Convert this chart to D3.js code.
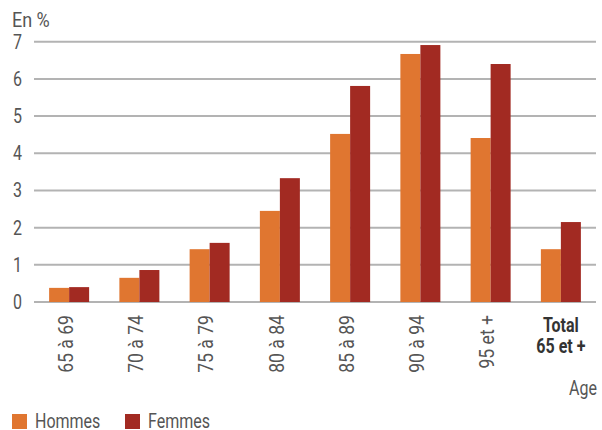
<!DOCTYPE html>
<html>
<head>
<meta charset="utf-8">
<script src="https://cdn.jsdelivr.net/npm/d3@7"></script>
<style>
  html, body { margin: 0; padding: 0; background: #fff; }
  svg { display: block; }
  text { font-family: "Roboto", "Liberation Sans", sans-serif; font-weight: 400; }
</style>
</head>
<body>
<svg id="chart" width="602" height="430"></svg>
<script>
// Age groups and rates (en %) by sex
const categories = ["65 à 69", "70 à 74", "75 à 79", "80 à 84", "85 à 89", "90 à 94", "95 et +", "Total\n65 et +"];
const hommes = [0.38, 0.65, 1.42, 2.45, 4.52, 6.67, 4.41, 1.42];
const femmes = [0.40, 0.86, 1.59, 3.33, 5.81, 6.91, 6.40, 2.15];
const seriesNames = ["Hommes", "Femmes"];
const yTicks = [0, 1, 2, 3, 4, 5, 6, 7];

const colors = { Hommes: "#E07630", Femmes: "#A22A22" };
const textColor = "#555555";
const narrow = 0.8;   // horizontal squeeze giving a condensed face
const fontSize = 20;

const svg = d3.select("#chart");

const plotLeft = 34, plotRight = 596, plotTop = 41.7, plotBottom = 302;
const groupWidth = 40;
const step = (plotRight - plotLeft) / categories.length;
const pad = 1 - groupWidth / step;

const x0 = d3.scaleBand().domain(categories).range([plotLeft, plotRight])
  .paddingInner(pad).paddingOuter(pad / 2);
const x1 = d3.scaleBand().domain(seriesNames).range([0, x0.bandwidth()]);
const y = d3.scaleLinear().domain([0, 7]).range([plotBottom, plotTop]);

// Condensed text helper
function label(parent, x, y, str, anchor = "start", extra = "", sx = narrow) {
  return parent.append("text")
    .attr("transform", `translate(${x},${y}) ${extra} scale(${sx},1)`)
    .attr("text-anchor", anchor)
    .attr("font-size", fontSize)
    .attr("fill", textColor)
    .text(str);
}

// Horizontal gridlines
svg.append("g").selectAll("line").data(yTicks).join("line")
  .attr("x1", plotLeft).attr("x2", plotRight)
  .attr("y1", d => y(d)).attr("y2", d => y(d))
  .attr("stroke", "#b3b3b3").attr("stroke-width", 2);

// Y tick labels
const yAxis = d3.axisLeft(y).tickValues(yTicks).tickSize(0).tickPadding(0).tickFormat(d3.format("d"));
const gy = svg.append("g").attr("transform", "translate(22,0)").call(yAxis);
gy.select(".domain").remove();
gy.selectAll("text")
  .attr("font-size", fontSize).attr("fill", textColor)
  .attr("transform", `scale(${narrow},1)`)
  .style("font-family", "Roboto, 'Liberation Sans', sans-serif")
  .style("font-weight", 400);

label(svg, 12, 27, "En %", "start", "", 0.9);

// Bars
const rows = categories.map((c, i) => ({ cat: c, values: [
  { key: "Hommes", v: hommes[i] }, { key: "Femmes", v: femmes[i] } ] }));

const groups = svg.append("g").selectAll("g").data(rows).join("g")
  .attr("transform", d => `translate(${x0(d.cat)},0)`);
groups.selectAll("rect").data(d => d.values).join("rect")
  .attr("x", d => x1(d.key))
  .attr("width", x1.bandwidth())
  .attr("y", d => y(d.v))
  .attr("height", d => y(0) - y(d.v))
  .attr("fill", d => colors[d.key]);

// Category labels: rotated for age bands, two bold lines for the total
const labels = svg.append("g");
categories.forEach(c => {
  const cx = x0(c) + x0.bandwidth() / 2;
  if (c.includes("\n")) {
    c.split("\n").forEach((ln, k) => {
      label(labels, cx, 332 + k * 21, ln, "middle")
        .style("font-weight", 700).attr("fill", "#333333");
    });
  } else {
    label(labels, cx + 3.7, 315, c, "end", "rotate(-90)", 0.88);
  }
});

label(svg, 597, 395, "Age", "end");

// Legend
const legend = svg.append("g");
const legendX = [12, 125];
seriesNames.forEach((s, i) => {
  legend.append("rect").attr("x", legendX[i]).attr("y", 414).attr("width", 15).attr("height", 15)
    .attr("fill", colors[s]);
  label(legend, legendX[i] + 23, 427.5, s);
});
</script>
</body>
</html>
